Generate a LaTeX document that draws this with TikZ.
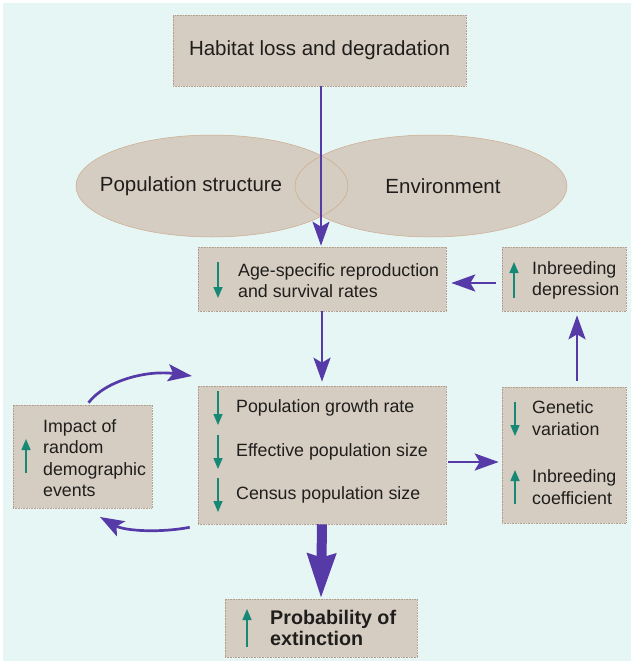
\documentclass[tikz,border=0pt]{standalone}
\usepackage{fontspec}
\setmainfont{Liberation Sans}
\usetikzlibrary{arrows.meta,shapes.geometric}
\definecolor{bg}{RGB}{230,246,245}
\definecolor{boxfill}{RGB}{213,205,193}
\definecolor{boxline}{RGB}{178,158,138}
\definecolor{arr}{RGB}{86,58,168}
\definecolor{grn}{RGB}{22,136,118}
\definecolor{ellline}{RGB}{205,170,140}
\definecolor{txt}{RGB}{32,30,28}
\tikzset{
  box/.style={draw=boxline, densely dotted, line width=0.6pt, fill=boxfill, inner sep=0pt},
  ell/.style={ellipse, fill=boxfill, inner sep=0pt, minimum width=272pt, minimum height=102pt},
  elline/.style={ellipse, draw=ellline, line width=0.5pt, inner sep=0pt, minimum width=272pt, minimum height=102pt},
  bigtxt/.style={text=txt, inner sep=0pt, font=\fontsize{20.5}{24}\selectfont},
  lbl/.style={text=txt, inner sep=0pt, anchor=west, align=left, font=\fontsize{17.8}{21.5}\selectfont},
  boldlbl/.style={text=txt, inner sep=0pt, anchor=west, align=left, font=\fontsize{19.7}{21.5}\selectfont\bfseries},
  flow/.style={draw=arr, line width=2.7pt, -{Stealth[length=24pt,width=17pt,inset=5pt]}},
  up/.style={draw=grn, line width=1.5pt, -{Triangle[length=11pt,width=9pt]}},
}
\begin{document}
\begin{tikzpicture}[x=1pt,y=-1pt]
\useasboundingbox (0,0) rectangle (631,661);
\fill[white] (0,0) rectangle (631,661);
\fill[bg] (3,3) rectangle (631,661);

\coordinate (x321) at (321,0);
\coordinate (x577) at (577,0);
\coordinate (y283) at (0,283);
\coordinate (y462) at (0,462);

% habitat
\node[box, minimum width=293pt, minimum height=71pt] (hab) at (319.5,50.5) {};
\node[bigtxt] (habt) at (319.5,50) {Habitat loss and degradation};

% ellipses
\node[ell] (ellL) at (212,186) {};
\node[ell] (ellR) at (431,186) {};
\node[elline] (ellLo) at (212,186) {};
\node[elline] (ellRo) at (431,186) {};
\node[bigtxt] (popst) at (191,186) {Population structure};
\node[bigtxt] (env) at (443,186) {Environment};

% age box
\node[box, minimum width=248pt, minimum height=64pt] (age) at (322,279) {};
\node[lbl] (aget) at (238,280.5) {Age-specific reproduction\\and survival rates};
\coordinate (ga1) at (218,262); \coordinate (ga2) at (218,298);
\draw[up] (ga1) -- (ga2);

% inbreeding depression
\node[box, minimum width=124pt, minimum height=64pt] (ind) at (564,279) {};
\node[lbl] (indt) at (532,280.5) {Inbreeding\\depression};
\coordinate (gi1) at (514,298); \coordinate (gi2) at (514,262);
\draw[up] (gi1) -- (gi2);

% population box
\node[box, minimum width=248pt, minimum height=138pt] (pop) at (322,455) {};
\node[lbl] (p1) at (236,408) {Population growth rate};
\node[lbl] (p2) at (236,452) {Effective population size};
\node[lbl] (p3) at (236,495) {Census population size};
\foreach \yy/\nm in {408/a,452/b,495/c}{
  \coordinate (gp\nm1) at (218,\yy-17); \coordinate (gp\nm2) at (218,\yy+17);
  \draw[up] (gp\nm1) -- (gp\nm2);
}

% genetic box
\node[box, minimum width=124pt, minimum height=136pt] (gen) at (564,455) {};
\node[lbl] (g1) at (532,418) {Genetic\\variation};
\node[lbl] (g2) at (532,487) {Inbreeding\\coefficient};
\coordinate (gg1) at (515,402); \coordinate (gg2) at (515,436);
\draw[up] (gg1) -- (gg2);
\coordinate (gh1) at (515,504); \coordinate (gh2) at (515,470);
\draw[up] (gh1) -- (gh2);

% impact box
\node[box, minimum width=139pt, minimum height=103pt] (imp) at (82.5,456.5) {};
\node[lbl] (impt) at (43,458) {Impact of\\random\\demographic\\events};
\coordinate (gm1) at (26,473); \coordinate (gm2) at (26,439);
\draw[up] (gm1) -- (gm2);

% probability box
\node[box, minimum width=192pt, minimum height=58pt] (prob) at (321,628) {};
\node[boldlbl] (probt) at (270,628) {Probability of\\extinction};
\coordinate (gq1) at (247,647); \coordinate (gq2) at (247,609);
\draw[up] (gq1) -- (gq2);

% connectors
\draw[flow, line width=2.2pt, shorten >=1pt] (hab.south -| x321) -- (age.north -| x321);
\draw[flow, shorten <=6pt, shorten >=5pt] (ind.west |- y283) -- (age.east |- y283);
\draw[flow, shorten >=4pt] (age.south) -- (pop.north);
\draw[flow, shorten <=6pt, shorten >=4pt] (gen.north -| x577) -- (ind.south -| x577);
\draw[flow, shorten <=2pt, shorten >=3pt] (pop.east |- y462) -- (gen.west |- y462);
\coordinate (topend) at (192,376);
\draw[flow] ([xshift=6pt,yshift=2pt]imp.north) .. controls (106,380) and (148,370) .. (topend);
\coordinate (botend) at (100,517);
\draw[flow] ([xshift=-8pt,yshift=-3pt]pop.south west) .. controls (160,533) and (125,531) .. (botend);
\draw[draw=arr, line width=10pt, -{Stealth[length=44pt,width=27pt,inset=3pt]}] (pop.south) -- (prob.north);
\end{tikzpicture}
\end{document}
